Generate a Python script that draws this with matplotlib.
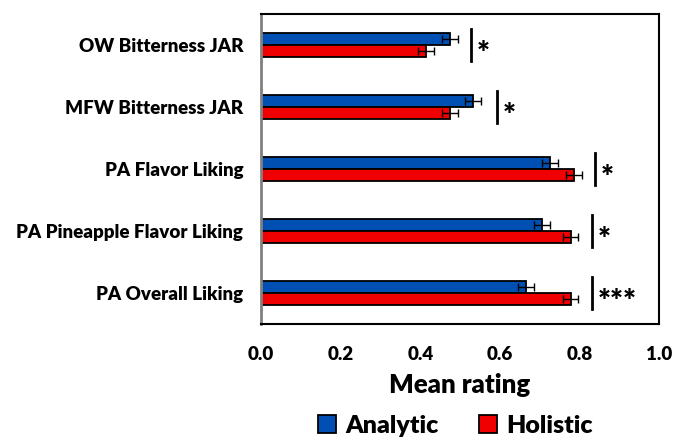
import matplotlib.pyplot as plt
import numpy as np

plt.rcParams['font.family'] = ['Lato', 'DejaVu Sans']
plt.rcParams['font.weight'] = 'bold'

categorias = ['OW Bitterness JAR', 'MFW Bitterness JAR', 'PA Flavor Liking',
              'PA Pineapple Flavor Liking', 'PA Overall Liking']
analytic = [0.475, 0.533, 0.726, 0.706, 0.666]
holistic = [0.414, 0.475, 0.786, 0.778, 0.778]
err_analytic = [0.02, 0.02, 0.02, 0.02, 0.02]
err_holistic = [0.02, 0.02, 0.02, 0.02, 0.02]
sig_x = [0.528, 0.593, 0.839, 0.832, 0.832]
sig_txt = ['*', '*', '*', '*', '***']

y = np.arange(len(categorias))
h = 0.19

fig = plt.figure(figsize=(6.75, 4.38), dpi=100)
ax = fig.add_axes([0.387, 0.26, 0.589, 0.708])

ax.barh(y - h / 2, analytic, height=h, color='#0050b4', edgecolor='black', linewidth=1.3,
        xerr=err_analytic, error_kw=dict(ecolor='black', capsize=3, elinewidth=1, capthick=1),
        label='Analytic')
ax.barh(y + h / 2, holistic, height=h, color='#f00000', edgecolor='black', linewidth=1.3,
        xerr=err_holistic, error_kw=dict(ecolor='black', capsize=3, elinewidth=1, capthick=1),
        label='Holistic')

# barras de significancia
for i in range(len(categorias)):
    ax.plot([sig_x[i], sig_x[i]], [y[i] - 0.26, y[i] + 0.26], color='black', lw=2)
    ax.text(sig_x[i] + 0.015, y[i] + 0.14, sig_txt[i], fontsize=22, fontweight='heavy',
            va='center', ha='left')

ax.set_xlim(0, 1.0)
ax.set_ylim(4.5, -0.5)
ax.set_yticks(y)
ax.set_yticklabels(categorias, fontsize=13.5, fontweight='heavy')
ax.set_xticks([0, 0.2, 0.4, 0.6, 0.8, 1.0])
ax.set_xticklabels(['0.0', '0.2', '0.4', '0.6', '0.8', '1.0'], fontsize=13.5, fontweight='heavy')
ax.tick_params(axis='y', length=0, pad=13)
ax.tick_params(axis='x', length=0, pad=16)
ax.set_xlabel('Mean rating', fontsize=18.5, fontweight='heavy', labelpad=7)

for s in ['top', 'right', 'bottom']:
    ax.spines[s].set_color('black')
    ax.spines[s].set_linewidth(1.5)
ax.spines['left'].set_color('#808080')
ax.spines['left'].set_linewidth(2)

fig.legend(loc='center', bbox_to_anchor=(0.675, 0.028), ncol=2, frameon=False,
           handlelength=0.7, handleheight=0.7, columnspacing=1.6,
           handletextpad=0.4, prop={'weight': 'heavy', 'size': 18})

fig.savefig('out.png', dpi=100)
